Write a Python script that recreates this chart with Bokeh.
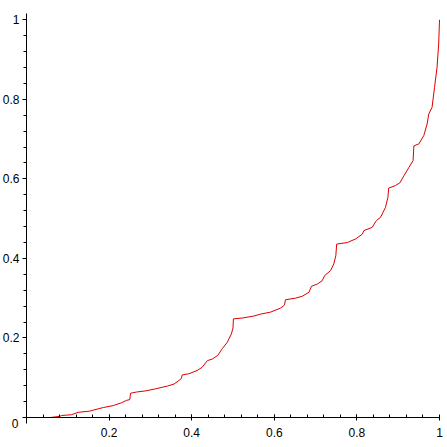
from bokeh.plotting import figure
from bokeh.models import LinearAxis, FixedTicker, Range1d, Label
from bokeh.embed import file_html
from bokeh.resources import INLINE

# values
xs = [0.0, 0.058, 0.081, 0.085, 0.109, 0.125, 0.153, 0.174, 0.186, 0.21, 0.23, 0.242,
      0.250, 0.252, 0.266, 0.289, 0.312, 0.341, 0.357, 0.369, 0.375, 0.377, 0.393,
      0.413, 0.425, 0.438, 0.45, 0.463, 0.474, 0.486, 0.496, 0.500, 0.501, 0.522,
      0.55, 0.567, 0.591, 0.615, 0.623, 0.625, 0.627, 0.651, 0.668, 0.684, 0.69,
      0.705, 0.716, 0.722, 0.736, 0.744, 0.749, 0.751, 0.777, 0.797, 0.813, 0.817,
      0.837, 0.847, 0.857, 0.869, 0.875, 0.877, 0.893, 0.904, 0.914, 0.926, 0.936,
      0.938, 0.95, 0.962, 0.970, 0.974, 0.982, 0.988, 0.994, 0.998, 1.0]
ys = [0.0, 0.0, 0.003, 0.005, 0.007, 0.013, 0.016, 0.022, 0.025, 0.030, 0.037, 0.043,
      0.045, 0.061, 0.064, 0.067, 0.072, 0.079, 0.084, 0.093, 0.098, 0.107, 0.110,
      0.118, 0.126, 0.143, 0.147, 0.156, 0.173, 0.189, 0.210, 0.225, 0.248, 0.250,
      0.255, 0.260, 0.265, 0.275, 0.281, 0.285, 0.296, 0.300, 0.305, 0.315, 0.330,
      0.336, 0.344, 0.357, 0.369, 0.386, 0.407, 0.436, 0.440, 0.449, 0.461, 0.470,
      0.478, 0.495, 0.503, 0.528, 0.553, 0.577, 0.583, 0.590, 0.608, 0.629, 0.646,
      0.683, 0.688, 0.709, 0.738, 0.763, 0.780, 0.830, 0.880, 0.939, 1.0]

x_ticks = [0.2, 0.4, 0.6, 0.8, 1.0]
y_ticks = [0.2, 0.4, 0.6, 0.8, 1.0]
minor = [0.04 * k for k in range(1, 25)]
x_labels = {0.2: "0.2", 0.4: "0.4", 0.6: "0.6", 0.8: "0.8", 1.0: "1"}
y_labels = {0.2: "0.2", 0.4: "0.4", 0.6: "0.6", 0.8: "0.8", 1.0: "1"}

W = H = 446
X0, XS = 26, 413      # pixel of x=0 and pixels per unit
Y0, YS = 417, 397.7   # pixel of y=0 and pixels per unit

p = figure(width=W, height=H, output_backend="svg", toolbar_location=None,
           x_axis_type=None, y_axis_type=None,
           x_range=Range1d(-X0 / XS, (W - X0) / XS),
           y_range=Range1d(-(H - Y0) / YS, Y0 / YS),
           min_border=0, min_border_left=0, min_border_right=0,
           min_border_top=0, min_border_bottom=0)
p.outline_line_color = None
p.background_fill_color = "white"
p.border_fill_color = "white"
p.grid.visible = False

font = "Liberation Sans"

xa = LinearAxis(fixed_location=0, bounds=(-0.01, 1.0))
xa.ticker = FixedTicker(ticks=x_ticks, minor_ticks=minor)
xa.major_label_overrides = x_labels
xa.major_tick_in = 3
xa.major_tick_out = 3
xa.minor_tick_in = 3
xa.minor_tick_out = 0
xa.major_label_standoff = 7
xa.major_label_text_font = font
xa.major_label_text_font_size = "12px"
xa.major_label_text_color = "black"
xa.axis_line_color = "black"
xa.major_tick_line_color = "black"
xa.minor_tick_line_color = "black"
p.add_layout(xa, "below")

ya = LinearAxis(fixed_location=0, bounds=(-0.015, 1.015))
ya.ticker = FixedTicker(ticks=y_ticks, minor_ticks=minor)
ya.major_label_overrides = y_labels
ya.major_tick_in = 0
ya.major_tick_out = 4
ya.minor_tick_in = 0
ya.minor_tick_out = 3
ya.major_label_standoff = 3
ya.major_label_text_font = font
ya.major_label_text_font_size = "12px"
ya.major_label_text_color = "black"
ya.axis_line_color = "black"
ya.major_tick_line_color = "black"
ya.minor_tick_line_color = "black"
p.add_layout(ya, "left")

p.add_layout(Label(x=0, y=0, x_offset=-8, y_offset=-6, text="0",
                   text_align="right", text_baseline="middle",
                   text_font=font, text_font_size="12px", text_color="black"))

p.line(xs, ys, line_color="#dd0000", line_width=1)

open("out.html", "w").write(file_html(p, INLINE))
